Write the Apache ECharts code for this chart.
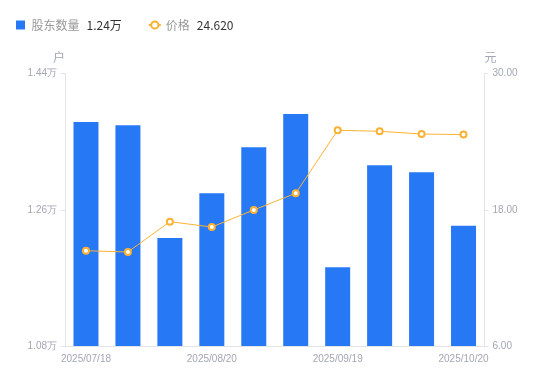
<!DOCTYPE html>
<html>
<head>
<meta charset="utf-8">
<script src="https://cdn.jsdelivr.net/npm/echarts@6/dist/echarts.min.js"></script>
<style>html,body{margin:0;padding:0;background:#fff}#c{width:550px;height:381px}</style>
</head>
<body>
<div id="c"></div>
<script>
var categories = ['2025/07/18','2025/07/31','2025/08/10','2025/08/20','2025/08/29','2025/09/10','2025/09/19','2025/09/30','2025/10/10','2025/10/20'];
var holders = [13759, 13716, 12227, 12817, 13425, 13865, 11840, 13187, 13095, 12389];
var prices = [14.39, 14.28, 16.95, 16.48, 17.98, 19.45, 25.00, 24.91, 24.67, 24.62];
var leftTicks = [10800, 12600, 14400];
var rightTicks = [6, 18, 30];

var lastHolder = (holders[holders.length-1]/10000).toFixed(2) + '万';
var lastPrice = prices[prices.length-1].toFixed(3);
var labelColor = '#a3a6b4';
var axisColor = '#e3e4e8';

var chart = echarts.init(document.getElementById('c'), null, {renderer:'canvas'});
chart.setOption({
  animation: false,
  legend: {
    left: 11, top: 14,
    itemWidth: 12, itemHeight: 9, itemGap: 26,
    symbolKeepAspect: true,
    data: [{name:'股东数量', icon:'path://M0,0L10,0L10,10L0,10Z'}, {name:'价格'}],
    textStyle: {fontSize: 12, fontFamily: 'Noto Sans CJK SC, sans-serif',
      rich: {n: {color:'#999999', fontSize:12, padding:[0,7,0,0]}, v: {color:'#333333', fontSize:12}}},
    formatter: function(name){
      return '{n|' + name + '}{v|' + (name === '股东数量' ? lastHolder : lastPrice) + '}';
    }
  },
  grid: {left: 65, right: 65.5, top: 73.5, bottom: 35, containLabel: false},
  xAxis: {
    type: 'category', data: categories,
    axisLine: {lineStyle: {color: axisColor}},
    axisTick: {show: false},
    axisLabel: {interval: 2, color: labelColor, fontSize: 10, margin: 8, fontFamily: 'Liberation Sans, Arial, sans-serif'}
  },
  yAxis: [{
    type: 'value', min: 10800, max: 14400, position: 'left',
    name: '户', nameGap: 10,
    nameTextStyle: {color: labelColor, fontSize: 12, align: 'right', fontFamily: 'Noto Sans CJK SC, sans-serif'},
    axisLine: {show: true, lineStyle: {color: axisColor}},
    axisTick: {show: true, length: 4, lineStyle: {color: axisColor}, customValues: leftTicks},
    splitLine: {show: false},
    axisLabel: {color: labelColor, fontSize: 10, margin: 8, customValues: leftTicks,
      fontFamily: 'Liberation Sans, Arial, sans-serif',
      formatter: function(v){ return (v/10000).toFixed(2) + '万'; }}
  }, {
    type: 'value', min: 6, max: 30, position: 'right',
    name: '元', nameGap: 10,
    nameTextStyle: {color: labelColor, fontSize: 12, align: 'left', fontFamily: 'Noto Sans CJK SC, sans-serif'},
    axisLine: {show: true, lineStyle: {color: axisColor}},
    axisTick: {show: true, length: 4, lineStyle: {color: axisColor}, customValues: rightTicks},
    splitLine: {show: false},
    axisLabel: {color: labelColor, fontSize: 10, margin: 8, customValues: rightTicks,
      fontFamily: 'Liberation Sans, Arial, sans-serif',
      formatter: function(v){ return v.toFixed(2); }}
  }],
  series: [{
    name: '股东数量', type: 'bar', yAxisIndex: 0, data: holders, barWidth: 25,
    itemStyle: {color: '#2778f4'}
  }, {
    name: '价格', type: 'line', yAxisIndex: 1, data: prices,
    symbol: 'emptyCircle', symbolSize: 6, showSymbol: true,
    lineStyle: {color: '#fbb234', width: 1},
    itemStyle: {color: '#fbb234', borderWidth: 2}
  }]
});
</script>
</body>
</html>
